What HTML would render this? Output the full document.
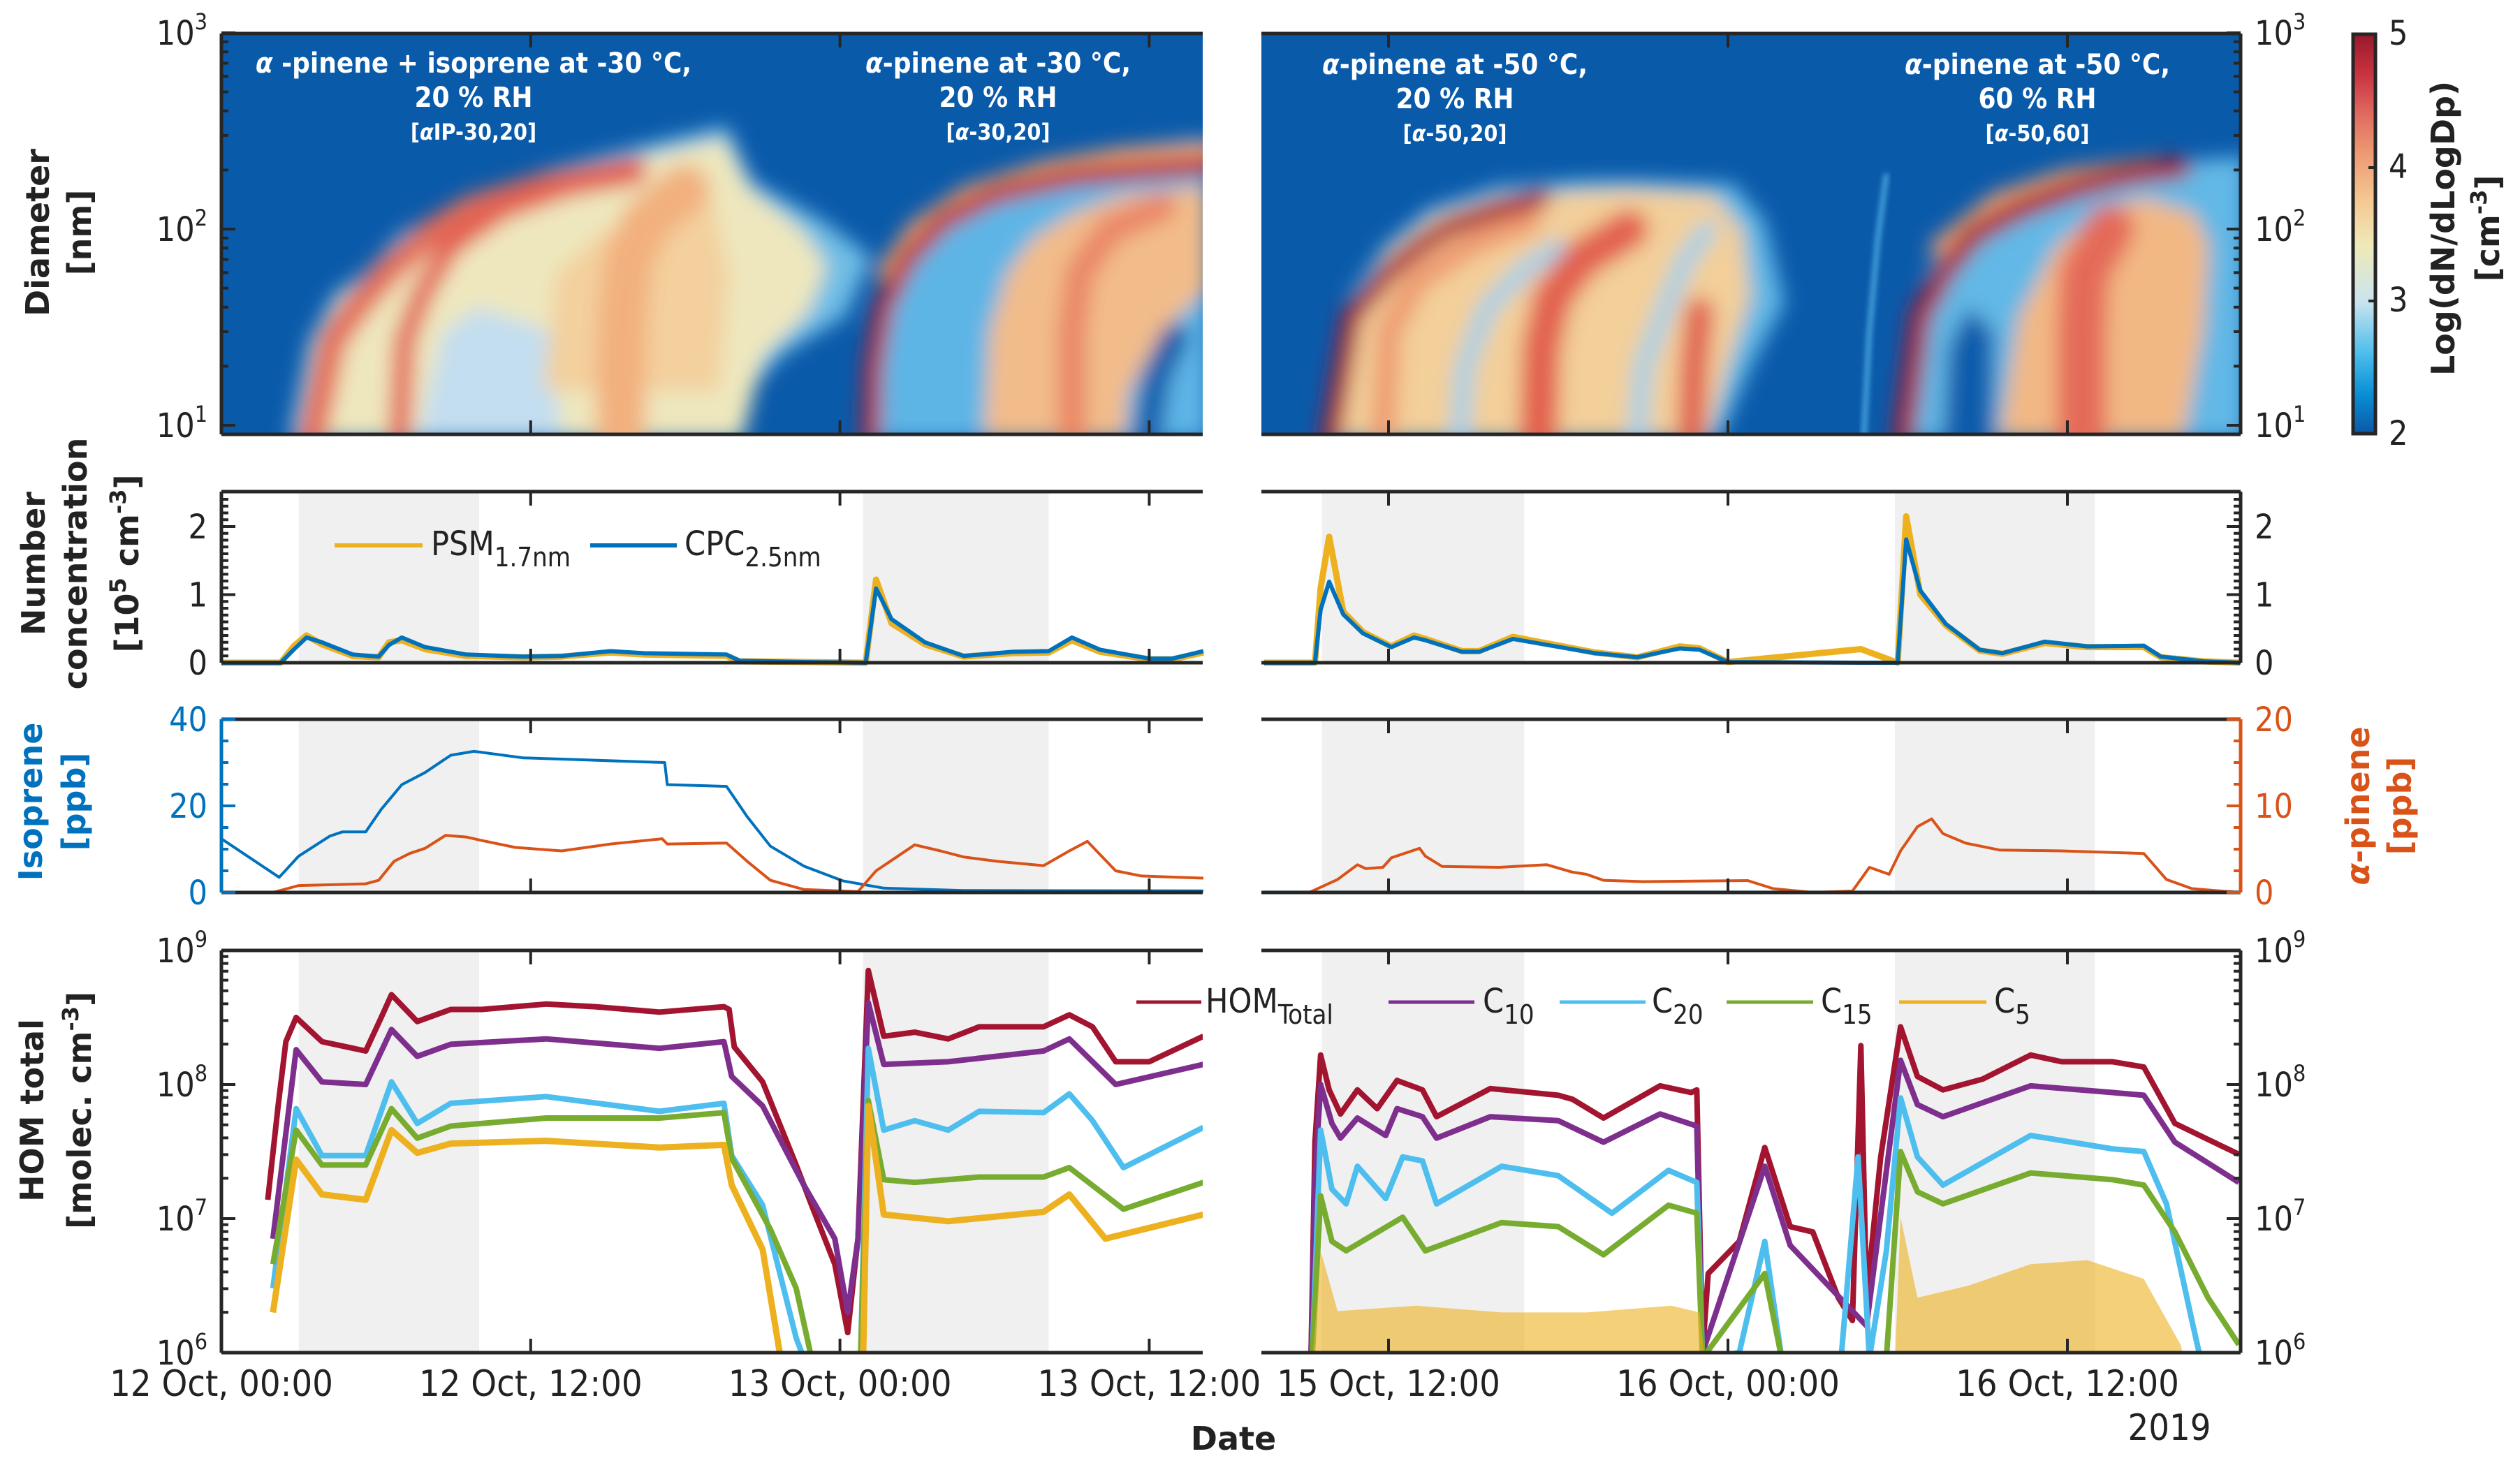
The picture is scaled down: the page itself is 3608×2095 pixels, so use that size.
<!DOCTYPE html>
<html><head><meta charset="utf-8">
<style>
html,body{margin:0;padding:0;background:#fff;}
svg{display:block;}
.tk{font-family:"DejaVu Sans Condensed","DejaVu Sans","Liberation Sans",sans-serif;font-size:48px;fill:#222;}
.tkx{font-family:"DejaVu Sans Condensed","DejaVu Sans","Liberation Sans",sans-serif;font-size:52px;fill:#222;}
.ttl{font-family:"DejaVu Sans","Liberation Sans",sans-serif;font-weight:bold;font-size:46px;fill:#222;}
.ht{font-family:"DejaVu Sans Condensed","DejaVu Sans","Liberation Sans",sans-serif;font-weight:bold;fill:#fff;text-anchor:middle;}
</style></head>
<body>
<svg id="fig" xmlns="http://www.w3.org/2000/svg" width="3608" height="2095" viewBox="0 0 3608 2095">
<defs>
<filter id="blur" x="-20%" y="-20%" width="140%" height="140%"><feGaussianBlur stdDeviation="14"/></filter>
<filter id="blur2" x="-20%" y="-20%" width="140%" height="140%"><feGaussianBlur stdDeviation="4"/></filter>
<clipPath id="clipHL"><rect x="317" y="48" width="1405" height="574"/></clipPath>
<clipPath id="clipHR"><rect x="1806" y="48" width="1402" height="574"/></clipPath>
<linearGradient id="cmap" x1="0" y1="1" x2="0" y2="0">
<stop offset="0" stop-color="#0b58a6"/><stop offset="0.1" stop-color="#0a8fd6"/>
<stop offset="0.2" stop-color="#4cbdec"/><stop offset="0.33" stop-color="#c9e4ee"/>
<stop offset="0.47" stop-color="#efe9b9"/><stop offset="0.58" stop-color="#f4c993"/>
<stop offset="0.7" stop-color="#ee9a73"/><stop offset="0.8" stop-color="#e06a60"/>
<stop offset="0.9" stop-color="#c93340"/><stop offset="1" stop-color="#97192c"/>
</linearGradient>
</defs>
<g id="root"></g>
</svg>
<script>
// ---------- data ----------
const shadeLeft = [[3.0,10.0],[24.9,32.1]];
const shadeRight = [[9.65,16.8],[29.9,36.97]];

const isoLeftH = [0,2.24,3.0,4.2,4.7,5.6,6.2,7.0,7.9,8.9,9.8,11.7,14.2,17.2,17.3,19.6,20.4,21.3,22.6,24.1,25.7,28.8,38.1];
const isoLeftV = [12.4,3.5,8.4,13,14,14,19.2,24.9,27.7,31.7,32.6,31.1,30.6,30,24.9,24.5,17.5,10.7,6.1,2.7,1.0,0.45,0.35];
const isoRightH = [7.6,42.1];
const isoRightV = [0.1,0.1];

const apLeftH = [0,2.0,3.0,5.6,6.1,6.7,7.3,7.9,8.7,9.5,10.1,11.4,13.2,15.1,17.1,17.3,19.6,20.4,21.3,22.6,24.7,25.4,26.9,27.9,28.8,30.1,31.9,32.9,33.6,34.7,35.7,38.1];
const apLeftV = [0,0,0.8,1.0,1.4,3.6,4.5,5.1,6.6,6.4,6.0,5.2,4.8,5.6,6.2,5.6,5.7,3.6,1.4,0.35,0.1,2.5,5.5,4.8,4.1,3.6,3.1,4.8,5.9,2.5,1.9,1.65];
const apRightH = [9.2,10.2,10.9,11.2,11.8,12.1,13.1,13.3,13.9,15.9,17.6,18.5,19.0,19.6,21.0,24.7,25.6,27.0,28.4,29.0,29.7,30.1,30.7,31.2,31.6,32.4,33.6,35.8,38.7,39.5,40.4,42.06];
const apRightV = [0,1.5,3.2,2.75,2.9,4.0,5.1,4.2,3.0,2.9,3.2,2.35,2.1,1.4,1.25,1.37,0.44,0,0.16,2.9,2.1,4.8,7.6,8.5,6.8,5.7,4.9,4.8,4.5,1.5,0.44,0];

const cpcLeftH = [0,2.3,2.8,3.3,3.9,5.1,6.1,6.5,7.0,7.9,9.5,11.7,13.2,15.1,16.4,19.6,20.1,22.6,25.0,25.4,26.0,27.3,28.8,30.7,32.1,33.0,34.1,36.0,36.9,38.1];
const cpcLeftV = [0,0,0.19,0.37,0.30,0.12,0.09,0.26,0.37,0.23,0.12,0.09,0.10,0.17,0.14,0.12,0.03,0.01,0,1.09,0.64,0.30,0.10,0.16,0.17,0.37,0.19,0.06,0.06,0.17];
const psmLeftV = [0,0,0.24,0.40,0.27,0.10,0.08,0.30,0.33,0.20,0.10,0.08,0.09,0.15,0.12,0.10,0.02,0.01,0,1.22,0.58,0.27,0.09,0.14,0.15,0.33,0.16,0.05,0.05,0.15];
const cpcRightH = [7.6,9.4,9.6,9.9,10.4,11.1,12.1,12.9,13.3,14.6,15.2,16.4,17.9,19.3,20.8,22.3,23.0,24.0,28.7,30.0,30.3,30.8,31.7,32.9,33.7,35.2,36.7,38.7,39.3,40.8,42.1];
const cpcRightV = [0,0,0.78,1.19,0.71,0.43,0.23,0.37,0.33,0.16,0.16,0.35,0.24,0.14,0.08,0.21,0.19,0.01,0,0,1.81,1.06,0.57,0.19,0.14,0.31,0.24,0.25,0.09,0.02,0];
const psmRightV = [0,0,1.1,1.85,0.75,0.45,0.24,0.40,0.35,0.17,0.17,0.38,0.26,0.15,0.08,0.24,0.21,0.01,0.2,0,2.15,1.0,0.55,0.18,0.13,0.29,0.23,0.23,0.08,0.02,0];

const homLeftH = [1.8,2.2,2.5,2.9,3.9,5.6,6.2,6.6,7.6,8.9,10.1,12.6,14.5,17.0,19.5,19.7,19.9,21.0,22.3,22.9,23.8,24.3,24.7,25.1,25.7,26.9,28.2,29.4,31.9,32.9,33.8,34.7,36.0,38.1];
const homTotLeft = [7.14,7.84,8.32,8.50,8.32,8.25,8.50,8.67,8.47,8.56,8.56,8.60,8.58,8.54,8.58,8.56,8.28,8.02,7.40,7.10,6.66,6.15,6.85,8.85,8.36,8.39,8.34,8.43,8.43,8.52,8.43,8.17,8.17,8.36];
const c10LeftH = [2.0,2.9,3.9,5.6,6.6,7.6,8.9,12.6,17.0,19.5,19.8,21.0,22.6,23.8,24.3,24.7,25.1,25.7,28.2,31.9,32.9,34.7,38.1];
const c10Left = [6.85,8.26,8.02,8.0,8.41,8.21,8.30,8.34,8.27,8.32,8.06,7.84,7.25,6.85,6.30,6.85,8.61,8.15,8.17,8.25,8.34,8.0,8.15];
const c20LeftH = [2.0,2.9,3.9,5.6,6.6,7.6,8.9,12.6,17.0,19.5,19.8,21.0,22.3,22.6,24.8,25.1,25.7,26.9,28.2,29.4,31.9,32.9,33.8,35.0,38.1];
const c20Left = [6.48,7.82,7.47,7.47,8.02,7.71,7.86,7.91,7.80,7.86,7.47,7.10,6.11,5.9,5.9,8.27,7.66,7.73,7.66,7.80,7.79,7.93,7.73,7.38,7.68];
const c15LeftH = [2.0,2.9,3.9,5.6,6.6,7.6,8.9,12.6,17.0,19.5,19.8,21.3,22.3,22.9,24.8,25.1,25.7,26.9,29.4,31.9,32.9,35.0,38.1];
const c15Left = [6.66,7.66,7.40,7.40,7.82,7.60,7.69,7.75,7.75,7.79,7.45,6.92,6.48,5.9,5.9,7.88,7.29,7.27,7.31,7.31,7.38,7.07,7.27];
const c5LeftH = [2.0,2.9,3.9,5.6,6.6,7.6,8.9,12.6,17.0,19.5,19.8,21.0,21.7,24.9,25.1,25.7,28.2,31.9,32.9,34.3,38.1];
const c5Left = [6.3,7.44,7.18,7.14,7.66,7.49,7.56,7.58,7.53,7.55,7.25,6.77,5.9,5.9,7.84,7.03,6.98,7.05,7.18,6.85,7.03];

const homRightH = [9.26,9.4,9.6,9.9,10.3,10.9,11.6,12.3,13.2,13.7,15.6,18.0,18.5,19.6,21.6,22.7,22.9,23.1,23.3,24.4,25.3,26.2,27.0,27.9,28.4,28.7,28.9,29.4,30.1,30.7,31.6,33.0,34.7,35.8,37.6,38.7,39.8,40.97,42.06];
const homTotRight = [5.9,7.57,8.22,7.96,7.78,7.96,7.82,8.03,7.96,7.76,7.97,7.92,7.89,7.75,7.99,7.94,7.96,6.0,6.59,6.83,7.53,6.94,6.9,6.41,6.24,8.29,6.41,7.46,8.43,8.06,7.96,8.04,8.22,8.17,8.17,8.13,7.71,7.59,7.48];
const c10RightH = [9.26,9.4,9.6,10.0,10.3,10.9,11.9,12.3,13.2,13.7,15.6,18.0,19.6,21.6,22.9,23.1,25.3,26.2,28.9,30.1,30.7,31.6,34.7,37.6,38.7,39.8,42.06];
const c10Right = [5.9,7.29,8.0,7.71,7.6,7.75,7.62,7.82,7.76,7.6,7.76,7.73,7.57,7.78,7.69,6.0,7.39,6.8,6.2,8.18,7.85,7.76,7.99,7.94,7.92,7.57,7.27];
const c20RightH = [9.3,9.6,10.0,10.5,10.9,11.9,12.5,13.2,13.7,16.0,18.0,19.9,21.9,22.9,23.1,24.4,25.3,25.9,28.0,28.6,29.0,29.6,30.1,30.7,31.6,34.7,37.6,38.7,39.5,40.4,40.7,42.06];
const c20Right = [5.9,7.66,7.22,7.11,7.39,7.15,7.46,7.43,7.11,7.39,7.32,7.04,7.36,7.27,5.9,6.0,6.83,5.9,5.9,7.46,5.9,6.76,7.9,7.46,7.25,7.62,7.52,7.5,7.11,6.24,5.9,5.9];
const c15RightH = [9.3,9.6,10.0,10.5,12.5,13.3,16.0,18.0,19.6,21.9,22.9,23.1,25.3,25.9,29.6,30.1,30.7,31.6,34.7,37.6,38.7,39.8,40.97,42.06];
const c15Right = [5.9,7.17,6.83,6.76,7.01,6.76,6.97,6.94,6.73,7.1,7.04,5.9,6.59,5.9,5.9,7.5,7.2,7.11,7.34,7.29,7.25,6.9,6.41,6.06];
const c5RightH = [9.3,9.6,10.2,13.0,16.0,19.0,22.0,23.0,23.2,29.9,30.1,30.7,32.5,34.7,36.7,38.7,40.0,40.2];
const c5Right = [5.9,6.76,6.31,6.35,6.3,6.3,6.35,6.3,5.9,5.9,7.01,6.41,6.5,6.66,6.69,6.55,6.06,5.9];

const heatLeft = [
 {kind:'fill', color:'#6fbde6', pts:[[2.6,8.5],[3.4,27],[4.4,47],[5.7,62],[6.9,94],[9.0,130],[12.7,200],[16,260],[19.6,335],[20.6,175],[23.4,109],[25.2,72],[24.2,36],[21.8,23],[20.6,15.6],[20.0,8.5]]},
 {kind:'fill', color:'#eee7bd', pts:[[2.9,8.5],[3.6,27],[4.6,45],[5.9,60],[7.1,90],[9.2,125],[12.7,185],[16,230],[19.5,290],[20.5,160],[22.5,100],[23.5,65],[22.8,38],[21,22],[20.2,8.5]]},
 {kind:'fill', color:'#c3def0', pts:[[7.6,8.5],[8.6,30],[10,40],[12.8,30],[13.2,8.5]]},
 {kind:'fill', color:'#f3d09d', pts:[[12.5,15],[13,60],[15,100],[19,150],[19.7,60],[19.3,15]]},
 {kind:'line', color:'#f2b07e', width:70, pts:[[15.5,8.5],[15.5,20],[15.6,40],[15.8,70],[16.5,110],[18,160]]},
 {kind:'line', color:'#e36a57', width:40, pts:[[3.5,8.5],[4.3,27],[5.3,41],[6.5,62],[8.1,94],[9.7,126],[12.7,166],[16,200]]},
 {kind:'line', color:'#e35c50', width:30, pts:[[6.9,8.5],[7.1,27],[7.8,47],[8.9,82],[10.9,126],[13.5,166],[16,190]]},
 {kind:'fill', color:'#5db5e6', pts:[[24.9,8.5],[25.0,20],[25.4,40],[26.2,70],[27.5,110],[29.5,160],[32,210],[35,260],[38.3,290],[38.3,8.5]]},
 {kind:'line', color:'#f0a070', width:26, pts:[[25.8,60],[27,100],[29,150],[32,200],[35,235],[38.3,250]]},
 {kind:'fill', color:'#f2bc8a', pts:[[29.6,8.5],[29.8,30],[30.5,60],[31.5,90],[33,120],[35,150],[38.3,165],[38.3,50],[36.5,30],[35.2,15],[35,8.5]]},
 {kind:'line', color:'#ea8566', width:40, pts:[[33,8.5],[33,30],[33.3,60],[34.5,100],[36.5,130]]},
 {kind:'line', color:'#0a5cab', width:40, pts:[[35.9,8.5],[36.3,18],[37,28]]},
 {kind:'line', color:'#b8202f', width:26, pts:[[25.2,8.5],[25.3,20],[25.7,40],[26.6,70],[28,110],[30,150],[33,185],[36,200],[38.3,210]]}
];
const heatRight = [
 {kind:'fill', color:'#62b8e6', pts:[[9.6,8.5],[10.7,47],[11.85,82],[13.4,126],[15.9,166],[19,178],[20.8,178],[24.2,170],[25.3,109],[26,42],[24.85,20.5],[23.7,8.5]]},
 {kind:'fill', color:'#f3cf9a', pts:[[9.9,8.5],[10.9,45],[12,78],[13.6,118],[16,150],[20.5,160],[23.5,150],[24.5,100],[24.8,45],[24,20],[23.3,8.5]]},
 {kind:'line', color:'#ee9a70', width:34, pts:[[11.8,8.5],[12,30],[13,55],[15,85],[17,110]]},
 {kind:'line', color:'#9fd0ec', width:26, pts:[[14.5,8.5],[14.7,20],[15.5,40],[16.8,62],[18,80]]},
 {kind:'line', color:'#9fd0ec', width:26, pts:[[20.8,8.5],[21,20],[21.8,40],[22.5,70],[23.3,100]]},
 {kind:'line', color:'#e2604e', width:55, pts:[[17.3,8.5],[17.4,25],[17.8,45],[18.8,70],[20.5,100]]},
 {kind:'line', color:'#e0604e', width:40, pts:[[22.7,8.5],[22.8,20],[23,38]]},
 {kind:'line', color:'#a81c30', width:28, pts:[[9.94,8.5],[10.7,36],[12.07,62],[13.1,82],[14.1,102],[15.8,125],[17.4,145]]},
 {kind:'fill', color:'#62b8e6', pts:[[29.9,8.5],[31.1,62],[32.7,126],[34.3,166],[36.1,195],[39,215],[42.3,235],[42.3,8.5]]},
 {kind:'line', color:'#f0a070', width:22, pts:[[31.4,80],[33.5,140],[36,185],[39,210]]},
 {kind:'fill', color:'#0a5cab', pts:[[31.6,8.5],[31.8,25],[32.5,40],[33.4,30],[33.4,8.5]]},
 {kind:'fill', color:'#f2b884', pts:[[33.6,8.5],[34.3,36],[35.6,82],[37.2,126],[38.7,145],[40.5,120],[41,82],[40.8,30],[40.1,8.5]]},
 {kind:'line', color:'#e46a58', width:70, pts:[[36.5,8.5],[36.5,30],[36.6,60],[37.5,100]]},
 {kind:'line', color:'#a81c30', width:30, pts:[[30.2,8.5],[30.8,36],[31.7,62],[32.7,94],[34.3,126],[36.5,166],[38.3,191],[40,205]]},
 {kind:'sliver', color:'#4ca8df', width:7, pts:[[28.8,8.5],[29.0,30],[29.3,90],[29.6,191]]}
];

// ---------- drawing ----------
const NS='http://www.w3.org/2000/svg';
const root=document.getElementById('root');
function el(tag,attrs,parent){const e=document.createElementNS(NS,tag);for(const k in attrs)e.setAttribute(k,attrs[k]);(parent||root).appendChild(e);return e;}
const xL=h=>317+h*36.9;
const xR=h=>1988+(h-12)*40.5;
const yHeat=D=>609-(Math.log10(D)-1)*281;
const yNum=v=>949-v*97.5;
const yIso=v=>1278-v*6.2;
const yAp=v=>1278-v*12.4;
const yHom=L=>1937-(L-6)*192;
const P={L:{x0:317,x1:1722,fx:xL},R:{x0:1806,x1:3208,fx:xR}};
const panelsY={heat:[48,622],num:[704,949],iso:[1030,1278],hom:[1361,1937]};

function drawHeat(side,feats,clip){
  const g=el('g',{'clip-path':'url(#'+clip+')'});
  
  
  const p=P[side];
  const bg=el('rect',{x:p.x0,y:48,width:p.x1-p.x0,height:574,fill:'#0a5aaa'},g);
  
  
  const gb=el('g',{filter:'url(#blur)'},g);
  feats.forEach(f=>{
    const pts=f.pts.map(q=>p.fx(q[0]).toFixed(1)+','+yHeat(q[1]).toFixed(1)).join(' ');
    let e;
    if(f.kind==='fill') e=el('polygon',{points:pts,fill:f.color},gb);
    else if(f.kind==='line') e=el('polyline',{points:pts,fill:'none',stroke:f.color,'stroke-width':f.width,'stroke-linecap':'round','stroke-linejoin':'round'},gb);
    else e=el('polyline',{points:pts,fill:'none',stroke:f.color,'stroke-width':f.width,filter:'url(#blur2)'},g);
    
    
  });
}
drawHeat('L',heatLeft,'clipHL');
drawHeat('R',heatRight,'clipHR');

function shade(side,ranges){
  const p=P[side];
  ['num','iso','hom'].forEach(k=>{
    ranges.forEach(r=>{
      const e=el('rect',{x:p.fx(r[0]),y:panelsY[k][0],width:p.fx(r[1])-p.fx(r[0]),height:panelsY[k][1]-panelsY[k][0],fill:'#f0f0f0'});
      
      
    });
  });
}
shade('L',shadeLeft);shade('R',shadeRight);

function line(side,hs,vs,fy,color,w,name,ylim){
  const p=P[side];
  const pts=hs.map((h,i)=>p.fx(h).toFixed(1)+','+Math.min(ylim,fy(vs[i])).toFixed(1)).join(' ');
  const e=el('polyline',{points:pts,fill:'none',stroke:color,'stroke-width':w,'stroke-linejoin':'round'});
  
  
  return e;
}
line('L',cpcLeftH,psmLeftV,yNum,'#edb120',9,'psm-line-left',949);
line('L',cpcLeftH,cpcLeftV,yNum,'#0072bd',6,'cpc-line-left',949);
line('R',cpcRightH,psmRightV,yNum,'#edb120',9,'psm-line-right',949);
line('R',cpcRightH,cpcRightV,yNum,'#0072bd',6,'cpc-line-right',949);
line('L',isoLeftH,isoLeftV,yIso,'#0072bd',4,'isoprene-line-left',1278);
line('R',isoRightH,isoRightV,yIso,'#0072bd',4,'isoprene-line-right',1278);
line('L',apLeftH,apLeftV,yAp,'#d95319',4,'alpha-pinene-line-left',1278);
line('R',apRightH,apRightV,yAp,'#d95319',4,'alpha-pinene-line-right',1278);

const homClipL=el('clipPath',{id:'chL'});el('rect',{x:317,y:1361,width:1405,height:576},homClipL);
const homClipR=el('clipPath',{id:'chR'});el('rect',{x:1806,y:1361,width:1402,height:576},homClipR);
function homSet(side,clip,series){
  const g=el('g',{'clip-path':'url(#'+clip+')'});
  
  
  series.forEach(s=>{
    const e=line(side,s[0],s[1],yHom,s[2],s[3],s[4],1945);
    g.appendChild(e);
  });
  return g;
}
homSet('L','chL',[[homLeftH,homTotLeft,'#a2142f',8,'hom-total-line'],[c10LeftH,c10Left,'#7e2f8e',8,'c10-line'],[c20LeftH,c20Left,'#4dbeee',8,'c20-line'],[c15LeftH,c15Left,'#77ac30',8,'c15-line'],[c5LeftH,c5Left,'#edb120',9,'c5-line']]);
const gR=homSet('R','chR',[[homRightH,homTotRight,'#a2142f',8,'hom-total-line'],[c10RightH,c10Right,'#7e2f8e',8,'c10-line'],[c20RightH,c20Right,'#4dbeee',8,'c20-line'],[c15RightH,c15Right,'#77ac30',8,'c15-line']]);
{
  const pts=c5RightH.map((h,i)=>xR(h).toFixed(1)+','+yHom(c5Right[i]).toFixed(1));
  const poly=el('polygon',{points:xR(c5RightH[0])+',1937 '+pts.join(' ')+' '+xR(c5RightH[c5RightH.length-1])+',1937',fill:'#edb120','fill-opacity':'0.6'},gR);
  
  
}

const AX='#262626';
function hline(x1,x2,y,c,w){el('line',{x1:x1,x2:x2,y1:y,y2:y,stroke:c||AX,'stroke-width':w||5});}
function vline(x,y1,y2,c,w){el('line',{x1:x,x2:x,y1:y1,y2:y2,stroke:c||AX,'stroke-width':w||5});}
const tickL=[0,12,24,36], tickR=[12,24,36];
['heat','num','iso','hom'].forEach(k=>{
  const [t,b]=panelsY[k];
  ['L','R'].forEach(s=>{
    const p=P[s];
    hline(p.x0,p.x1,t);hline(p.x0,p.x1,b);
    (s==='L'?tickL:tickR).forEach(h=>{
      const x=p.fx(h);
      vline(x,b-20,b,AX,4);vline(x,t,t+20,AX,4);
    });
  });
});
vline(317,48,622);vline(317,704,949);vline(317,1030,1278,'#0072bd');vline(317,1361,1937);
vline(3208,48,622);vline(3208,704,949);vline(3208,1030,1278,'#d95319');vline(3208,1361,1937);

function txt(x,y,s,cls,anchor,fill){
  const e=el('text',{x:x,y:y,class:cls,'text-anchor':anchor||'middle'});
  if(fill)e.setAttribute('style','fill:'+fill);
  e.innerHTML=s;
  return e;
}
function yticks(side,vals,fy,labels,color,minor){
  const x=side==='L'?317:3208, dir=side==='L'?1:-1;
  minor.forEach(v=>{const y=fy(v);el('line',{x1:x,x2:x+dir*10,y1:y,y2:y,stroke:color||AX,'stroke-width':4});});
  vals.forEach((v,i)=>{
    const y=fy(v);
    el('line',{x1:x,x2:x+dir*20,y1:y,y2:y,stroke:color||AX,'stroke-width':4});
    const t=txt(side==='L'?x-20:x+20,y+17,labels[i],'tk',side==='L'?'end':'start',color);
    
    
  });
}
const sup=(b,e)=>b+'<tspan dy="-22" font-size="32">'+e+'</tspan>';
const logMinor=(a,b)=>{const m=[];for(let d=a;d<b;d++)for(let k=2;k<10;k++)m.push(d+Math.log10(k));return m;};
const heatDec=[1,2,3];
yticks('L',heatDec.map(d=>Math.pow(10,d)),yHeat,heatDec.map(d=>sup('10',d)),null,logMinor(0,3).map(v=>Math.pow(10,v)).filter(v=>v>=9));
yticks('R',heatDec.map(d=>Math.pow(10,d)),yHeat,heatDec.map(d=>sup('10',d)),null,logMinor(0,3).map(v=>Math.pow(10,v)).filter(v=>v>=9));
const numMinor=[];for(let i=1;i<25;i++)if(i%10)numMinor.push(i/10);
yticks('L',[0,1,2],yNum,['0','1','2'],null,numMinor);
yticks('R',[0,1,2],yNum,['0','1','2'],null,numMinor);
yticks('L',[0,20,40],yIso,['0','20','40'],'#0072bd',[5,10,15,25,30,35]);
yticks('R',[0,10,20],yAp,['0','10','20'],'#d95319',[2.5,5,7.5,12.5,15,17.5]);
const homDec=[6,7,8,9];
yticks('L',homDec,yHom,homDec.map(d=>sup('10',d)),null,logMinor(6,9));
yticks('R',homDec,yHom,homDec.map(d=>sup('10',d)),null,logMinor(6,9));

const xlabL=['12 Oct, 00:00','12 Oct, 12:00','13 Oct, 00:00','13 Oct, 12:00'];
const xlabR=['15 Oct, 12:00','16 Oct, 00:00','16 Oct, 12:00'];
tickL.forEach((h,i)=>{const t=txt(xL(h),1999,xlabL[i],'tkx');});
tickR.forEach((h,i)=>{const t=txt(xR(h),1999,xlabR[i],'tkx');});
</script>

<svg style="position:absolute;left:0;top:0" width="3608" height="2095" viewBox="0 0 3608 2095" xmlns="http://www.w3.org/2000/svg">
<defs>
<linearGradient id="cmap2" x1="0" y1="1" x2="0" y2="0">
<stop offset="0" stop-color="#0b58a6"/><stop offset="0.1" stop-color="#0a8fd6"/>
<stop offset="0.2" stop-color="#4cbdec"/><stop offset="0.33" stop-color="#c9e4ee"/>
<stop offset="0.47" stop-color="#efe9b9"/><stop offset="0.58" stop-color="#f4c993"/>
<stop offset="0.7" stop-color="#ee9a73"/><stop offset="0.8" stop-color="#e06a60"/>
<stop offset="0.9" stop-color="#c93340"/><stop offset="1" stop-color="#97192c"/>
</linearGradient>
</defs>
<g>
<text class="ht" x="678" y="104" font-size="40"><tspan font-style="italic">α</tspan> -pinene + isoprene at -30 °C,</text>
<text class="ht" x="678" y="153" font-size="40">20 % RH</text>
<text class="ht" x="678" y="200" font-size="32">[<tspan font-style="italic">α</tspan>IP-30,20]</text>
<text class="ht" x="1429" y="104" font-size="40"><tspan font-style="italic">α</tspan>-pinene at -30 °C,</text>
<text class="ht" x="1429" y="153" font-size="40">20 % RH</text>
<text class="ht" x="1429" y="200" font-size="32">[<tspan font-style="italic">α</tspan>-30,20]</text>
<text class="ht" x="2083" y="106" font-size="40"><tspan font-style="italic">α</tspan>-pinene at -50 °C,</text>
<text class="ht" x="2083" y="155" font-size="40">20 % RH</text>
<text class="ht" x="2083" y="202" font-size="32">[<tspan font-style="italic">α</tspan>-50,20]</text>
<text class="ht" x="2917" y="106" font-size="40"><tspan font-style="italic">α</tspan>-pinene at -50 °C,</text>
<text class="ht" x="2917" y="155" font-size="40">60 % RH</text>
<text class="ht" x="2917" y="202" font-size="32">[<tspan font-style="italic">α</tspan>-50,60]</text>
</g>
<g>
<line x1="479" x2="605" y1="781" y2="781" stroke="#edb120" stroke-width="6"/>
<text class="tk" x="617" y="795">PSM<tspan dy="16" font-size="38">1.7nm</tspan></text>
<line x1="845" x2="969" y1="781" y2="781" stroke="#0072bd" stroke-width="6"/>
<text class="tk" x="980" y="795">CPC<tspan dy="16" font-size="38">2.5nm</tspan></text>
</g>
<g>
<line x1="1627" x2="1720" y1="1435" y2="1435" stroke="#a2142f" stroke-width="5"/>
<text class="tk" x="1726" y="1450">HOM<tspan dy="16" font-size="38">Total</tspan></text>
<line x1="1988" x2="2111" y1="1435" y2="1435" stroke="#7e2f8e" stroke-width="5"/>
<text class="tk" x="2123" y="1450">C<tspan dy="16" font-size="38">10</tspan></text>
<line x1="2233" x2="2356" y1="1435" y2="1435" stroke="#4dbeee" stroke-width="5"/>
<text class="tk" x="2365" y="1450">C<tspan dy="16" font-size="38">20</tspan></text>
<line x1="2472" x2="2596" y1="1435" y2="1435" stroke="#77ac30" stroke-width="5"/>
<text class="tk" x="2607" y="1450">C<tspan dy="16" font-size="38">15</tspan></text>
<line x1="2719" x2="2844" y1="1435" y2="1435" stroke="#edb120" stroke-width="5"/>
<text class="tk" x="2855" y="1450">C<tspan dy="16" font-size="38">5</tspan></text>
</g>
<g>
<text class="ttl" transform="translate(70,333) rotate(-90)" text-anchor="middle">Diameter</text>
<text class="ttl" transform="translate(130,333) rotate(-90)" text-anchor="middle">[nm]</text>
<text class="ttl" transform="translate(64,807) rotate(-90)" text-anchor="middle">Number</text>
<text class="ttl" transform="translate(124,807) rotate(-90)" text-anchor="middle">concentration</text>
<text class="ttl" transform="translate(198,807) rotate(-90)" text-anchor="middle">[10<tspan dy="-18" font-size="32">5</tspan><tspan dy="18"> cm</tspan><tspan dy="-18" font-size="32">-3</tspan><tspan dy="18">]</tspan></text>
<text class="ttl" transform="translate(60,1148) rotate(-90)" text-anchor="middle" style="fill:#0072bd">Isoprene</text>
<text class="ttl" transform="translate(122,1148) rotate(-90)" text-anchor="middle" style="fill:#0072bd">[ppb]</text>
<text class="ttl" transform="translate(3392,1154) rotate(-90)" text-anchor="middle" style="fill:#d95319"><tspan font-style="italic">α</tspan>-pinene</text>
<text class="ttl" transform="translate(3452,1154) rotate(-90)" text-anchor="middle" style="fill:#d95319">[ppb]</text>
<text class="ttl" transform="translate(62,1590) rotate(-90)" text-anchor="middle">HOM total</text>
<text class="ttl" transform="translate(130,1590) rotate(-90)" text-anchor="middle">[molec. cm<tspan dy="-18" font-size="32">-3</tspan><tspan dy="18">]</tspan></text>
<text class="ttl" transform="translate(3514,327) rotate(-90)" text-anchor="middle">Log(dN/dLogDp)</text>
<text class="ttl" transform="translate(3578,327) rotate(-90)" text-anchor="middle">[cm<tspan dy="-18" font-size="32">-3</tspan><tspan dy="18">]</tspan></text>
</g>
<g>
<rect x="3369" y="49" width="32" height="572" fill="url(#cmap2)" stroke="#262626" stroke-width="5"/>
<line x1="3391" x2="3401" y1="240" y2="240" stroke="#262626" stroke-width="4"/>
<line x1="3391" x2="3401" y1="431" y2="431" stroke="#262626" stroke-width="4"/>
<text class="tk" x="3420" y="64">5</text>
<text class="tk" x="3420" y="255">4</text>
<text class="tk" x="3420" y="446">3</text>
<text class="tk" x="3420" y="637">2</text>
</g>
<text class="ttl" x="1766" y="2076" text-anchor="middle">Date</text>
<text class="tkx" x="3106" y="2062" text-anchor="middle">2019</text>
</svg>
<style>body{position:relative;width:3608px;height:2095px;overflow:hidden;}</style>
</body></html>
